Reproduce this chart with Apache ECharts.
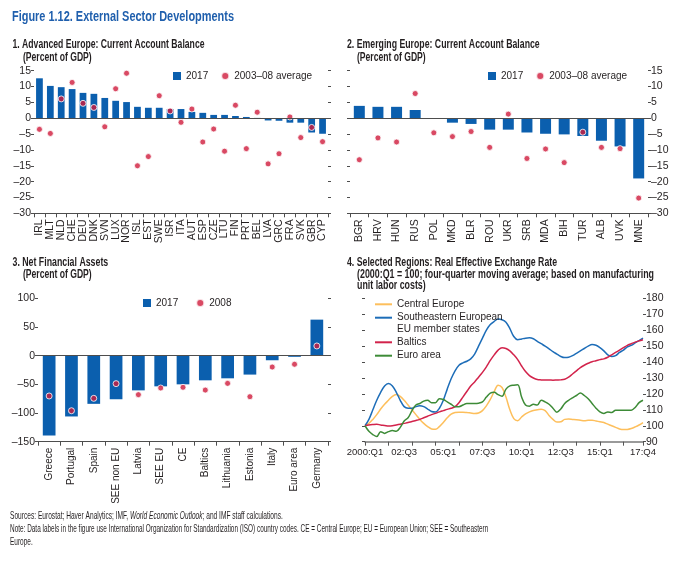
<!DOCTYPE html>
<html><head><meta charset="utf-8">
<script src="https://cdn.jsdelivr.net/npm/echarts@6.0.0/dist/echarts.min.js"></script>
<style>html,body{margin:0;padding:0;background:#fff}#c{width:694px;height:571px}</style>
</head><body><div id="c"></div>
<script>
// ---------- Panel 1: Advanced Europe ----------
const advCats = ['IRL','MLT','NLD','CHE','DEU','DNK','SVN','LUX','NOR','ISL','EST','SWE','ISR','ITA','AUT','ESP','CZE','LTU','FIN','PRT','BEL','LVA','GRC','FRA','SVK','GBR','CYP'];
const adv2017 = [12.6,10.2,9.8,9.2,8.0,7.7,6.4,5.5,5.1,3.6,3.3,3.3,2.9,2.9,2.0,1.7,1.05,1.05,0.7,0.4,0.1,-0.7,-0.8,-1.4,-1.4,-4.5,-4.9];
const advAvg = [-3.5,-4.8,6.1,11.3,4.7,3.4,-2.7,9.3,14.2,-15.0,-12.1,7.1,2.3,-1.3,2.9,-7.5,-3.4,-10.4,4.1,-9.6,1.9,-14.4,-11.2,0.4,-6.1,-2.9,-7.4];
// ---------- Panel 2: Emerging Europe ----------
const emgCats = ['BGR','HRV','HUN','RUS','POL','MKD','BLR','ROU','UKR','SRB','MDA','BIH','TUR','ALB','UVK','MNE'];
const emg2017 = [3.9,3.6,3.6,2.6,-0.2,-1.4,-1.8,-3.6,-3.6,-4.5,-4.9,-5.1,-5.6,-7.1,-8.9,-19.0];
const emgAvg = [-13.1,-6.2,-7.5,7.8,-4.6,-5.8,-4.2,-9.2,1.3,-12.7,-9.7,-14.0,-4.4,-9.2,-9.6,-25.2];
// ---------- Panel 3: Net Financial Assets ----------
const nfaCats = ['Greece','Portugal','Spain','SEE non EU','Latvia','SEE EU','CE','Baltics','Lithuania','Estonia','Italy','Euro area','Germany'];
const nfa2017 = [-139,-106,-84,-76,-60.5,-53.5,-50,-43,-39.5,-33,-8,-2,62.8];
const nfa2008 = [-70.3,-96,-74.4,-48.8,-68,-56.4,-55.2,-60,-48.3,-71.5,-19.8,-15,16.9];
// ---------- Panel 4: REER (2000:Q1 .. 2017:Q4) ----------
const quarters = [];
for (let y = 2000; y <= 2017; y++) for (let q = 1; q <= 4; q++)
  quarters.push(y === 2000 && q === 1 ? '2000:Q1' : String(y).slice(2) + ':Q' + q);
const reerCE = [100,101.5,104,107,110.5,113.5,116,118.5,119.6,118.5,116,113,110,107,104,101.5,99.5,98,97.8,99.5,102,105,107.3,108.3,108.5,108.5,108.3,108,107.7,108,109.5,112.5,116.5,121.5,125.5,124,118,110,104.5,103.2,105.5,107.5,108.7,109.6,110,110.4,109.5,106.5,104,102.3,102.5,104,104.2,104,103.8,103.5,103.2,103.4,103.5,103,102.5,102,101,100,99,98,97.6,97.7,98.3,99.3,100.5,102];
const reerSEE = [100,104,110,116,121,125,126.5,125,121,116,112,111,111,112,112.5,112,110.5,109,108.7,111,116,123,129.5,134.5,138,139.5,140.5,142,145,150,155,160,163.5,165.5,167,166.5,165,161,156,154,154.5,155,155.2,154.6,153,151.5,150,148.3,146.5,145,143.5,142.8,143,144,145.5,147,148.5,150,151,150.5,149,147,144.5,143.5,144,146,147.5,149.5,150.5,152,153.5,155];
const reerBaltics = [100,100.5,100.8,101,100.5,100.2,99.8,100,100.5,101,101.5,102,102.7,103.3,104,105,106,107,107.8,108.7,109.5,110.3,111,112,114.5,118,121.5,125,127.5,130.5,133.5,137,141,144.5,147.5,149,148.5,147,144.5,141.5,137.5,134,131.5,130,129,128.8,128.7,128.7,128.6,128.7,128.8,129.2,130.5,132.5,134.5,136.5,138,139.2,140.2,140.8,141.5,142,143,144.5,146,147.5,149,150.5,151.5,152.5,153.3,154];
const reerEuro = [100,96.5,94.5,93.2,96.3,95.2,96.3,97,96.5,99,103,105,109.5,113,114,115.5,116,114.5,114.5,117,116.5,115,113.5,112,112,113,114,114,114,114.2,115,118,120.5,121,119.5,118.5,123,125,125.5,125.8,118,113,112.3,113.5,113,116,115,113.5,111,108.5,110.5,114,116,117.5,119,120.5,119,117,114,111,108.7,107.7,108.7,108.3,109.8,109.8,109.8,109.8,109.8,111.5,114.5,116];

const FONT = '"Liberation Sans", Arial, Helvetica, sans-serif';
const TXT = '#231f20';
const AX = '#4d4d4d';
const BLUE = '#0b5fae';
const RED = '#cf1b3c';
const neg = v => v < 0 ? '\u2013' + Math.abs(v) : String(v);

const grids = [
  {left: 34, top: 70.7, width: 294, height: 142.6},
  {left: 350, top: 70.7, width: 298, height: 142.6},
  {left: 38, top: 298.3, width: 290, height: 143.4},
  {left: 365, top: 298.3, width: 278, height: 143.4}
];

function yAx(g, min, max, interval, pos, labels) {
  return {
    type: 'value', gridIndex: g, min, max, interval, position: pos,
    axisLine: {show: false}, splitLine: {show: false},
    axisTick: {show: true, length: 3, lineStyle: {color: AX}},
    axisLabel: {show: labels, formatter: neg, fontFamily: FONT, fontSize: 10.5, color: TXT, margin: 3}
  };
}
function xCat(g, data, fs) {
  return {
    type: 'category', gridIndex: g, data, position: 'bottom',
    axisLine: {onZero: false, lineStyle: {color: AX, width: 1}},
    axisTick: {show: true, length: 4, interval: 0, lineStyle: {color: AX}},
    axisLabel: {interval: 0, rotate: 90, fontFamily: FONT, fontSize: fs, color: TXT, margin: 6}
  };
}
const zeroLine = {silent: true, symbol: 'none', label: {show: false},
  lineStyle: {color: AX, width: 1, type: 'solid'}, data: [{yAxis: 0}]};

function barSeries(name, x, y, data, w) {
  return {type: 'bar', name, xAxisIndex: x, yAxisIndex: y, data, barWidth: w,
    itemStyle: {color: BLUE}, markLine: zeroLine, z: 2};
}
function dotSeries(name, x, y, data) {
  return {type: 'scatter', name, xAxisIndex: x, yAxisIndex: y, data, symbolSize: 6,
    itemStyle: {color: RED, borderColor: '#fff', borderWidth: 1}, z: 4};
}
function lineSeries(name, data, color) {
  return {type: 'line', name, xAxisIndex: 3, yAxisIndex: 7, data, smooth: 0.35,
    showSymbol: false, symbol: 'none', lineStyle: {color, width: 1.5}, itemStyle: {color}};
}
const legText = {fontFamily: FONT, fontSize: 10, color: TXT, lineHeight: 12};
const legBase = {itemWidth: 8, itemHeight: 8, itemGap: 12, padding: 0, selectedMode: false, textStyle: legText};
const lineLeg = (name, top) => ({orient: 'vertical', left: 375, top, itemWidth: 17, itemHeight: 2, padding: 0,
  selectedMode: false, textStyle: legText,
  formatter: n => n.indexOf('Southeastern') === 0 ? 'Southeastern European' : n,
  data: [{name, icon: 'rect'}]});

// text measured so that each caption keeps the reference's width (condensed face emulation)
const mctx = document.createElement('canvas').getContext('2d');
function title(t, x, y, size, color, bold, width, rich) {
  mctx.font = (bold ? 'bold ' : '') + size + 'px ' + FONT;
  const plain = t.replace(/\{i\|([^}]*)\}/g, '$1');
  const s = width ? width / mctx.measureText(plain).width : 1;
  const style = {text: t, fontFamily: FONT, fontSize: size, fontWeight: bold ? 'bold' : 'normal', fill: color, verticalAlign: 'middle'};
  if (rich) style.rich = rich;
  return {type: 'text', x, y, scaleX: s, style};
}

const option = {
  animation: false,
  backgroundColor: '#fff',
  grid: grids,
  xAxis: [
    xCat(0, advCats, 10.5), xCat(1, emgCats, 10.5), xCat(2, nfaCats, 10),
    {type: 'category', gridIndex: 3, data: quarters, boundaryGap: false,
     axisLine: {onZero: false, lineStyle: {color: '#7a7a7a', width: 1.5}},
     axisTick: {show: true, length: 4, interval: i => i % 6 === 0 || i === 71, lineStyle: {color: '#555'}},
     axisLabel: {interval: i => (i % 10 === 0 && i < 70) || i === 71, fontFamily: FONT, fontSize: 9.5, color: TXT, margin: 6}}
  ],
  yAxis: [
    yAx(0, -30, 15, 5, 'left', true), yAx(0, -30, 15, 5, 'right', false),
    yAx(1, -30, 15, 5, 'left', false), yAx(1, -30, 15, 5, 'right', true),
    yAx(2, -150, 100, 50, 'left', true), yAx(2, -150, 100, 50, 'right', false),
    yAx(3, 90, 180, 10, 'left', false), yAx(3, 90, 180, 10, 'right', true)
  ],
  legend: [
    Object.assign({}, legBase, {left: 173, top: 70, data: [{name: '2017', icon: 'rect'}, {name: '2003\u201308 average', icon: 'circle'}]}),
    Object.assign({}, legBase, {left: 488, top: 70, data: [{name: '2017', icon: 'rect'}, {name: '2003\u201308 average', icon: 'circle'}]}),
    Object.assign({}, legBase, {left: 143, top: 297, itemGap: 17, data: [{name: '2017', icon: 'rect'}, {name: '2008', icon: 'circle'}]}),
    lineLeg('Central Europe', 298.3),
    lineLeg('Southeastern European EU member states', 311.7),
    lineLeg('Baltics', 336.3),
    lineLeg('Euro area', 349.7)
  ],
  series: [
    barSeries('2017', 0, 0, adv2017, '62%'), dotSeries('2003\u201308 average', 0, 0, advAvg),
    barSeries('2017', 1, 3, emg2017, '59%'), dotSeries('2003\u201308 average', 1, 3, emgAvg),
    barSeries('2017', 2, 4, nfa2017, '57%'), dotSeries('2008', 2, 4, nfa2008),
    lineSeries('Central Europe', reerCE, '#fdbf5c'),
    lineSeries('Southeastern European EU member states', reerSEE, '#1d6db8'),
    lineSeries('Baltics', reerBaltics, '#d2234b'),
    lineSeries('Euro area', reerEuro, '#3d8b37')
  ],
  graphic: [
    title('Figure 1.12. External Sector Developments', 12, 17, 14.5, '#1f5fad', true, 222),
    title('1. Advanced Europe: Current Account Balance', 12.5, 45, 12, TXT, true, 192),
    title('(Percent of GDP)', 23, 57.5, 12, TXT, true, 68.7),
    title('2. Emerging Europe: Current Account Balance', 347, 45, 12, TXT, true, 192.7),
    title('(Percent of GDP)', 357, 57.5, 12, TXT, true, 68.7),
    title('3. Net Financial Assets', 12.5, 262.7, 12, TXT, true, 95.7),
    title('(Percent of GDP)', 23, 275, 12, TXT, true, 68.7),
    title('4. Selected Regions: Real Effective Exchange Rate', 347, 262.7, 12, TXT, true, 210),
    title('(2000:Q1 = 100; four-quarter moving average; based on manufacturing', 357, 275, 12, TXT, true, 297),
    title('unit labor costs)', 357, 285.5, 12, TXT, true, 68.7),
    title('EU member states', 397, 329.3, 10, TXT, false, 0),
    title('Sources: Eurostat; Haver Analytics; IMF, {i|World Economic Outlook}; and IMF staff calculations.', 10, 516, 11, TXT, false, 272.7,
      {i: {fontStyle: 'italic', fontFamily: FONT, fontSize: 11, fill: TXT}}),
    title('Note: Data labels in the figure use International Organization for Standardization (ISO) country codes. CE = Central Europe; EU = European Union; SEE = Southeastern', 10, 529, 11, TXT, false, 478.3),
    title('Europe.', 10, 542, 11, TXT, false, 22.7)
  ]
};
const chart = echarts.init(document.getElementById('c'));
chart.setOption(option);
</script>
</body></html>
